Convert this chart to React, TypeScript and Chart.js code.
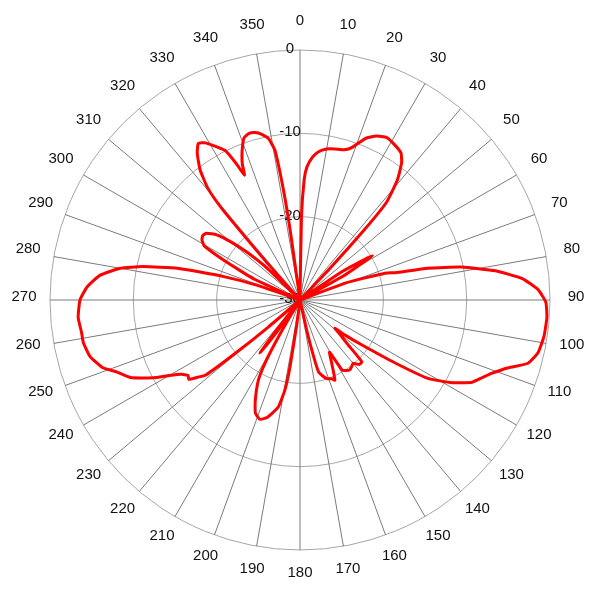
import React, { useEffect, useRef } from "react";
import { Chart, registerables } from "chart.js";

Chart.register(...registerables);

// Azimuth (degrees, clockwise from top) and relative gain (dB)
const azimuthDeg: number[] = [
  0, 1, 2, 3, 5, 7, 10, 13, 16.5, 19, 22, 25, 28, 31.5, 34.5, 36.5, 39, 41.5, 42.5, 43.5, 44.5,
  54, 56, 58.5, 61, 63,
  66, 69.5, 72.5, 74, 76, 78.5, 81.5, 84.5, 87.5, 90.5, 94, 98.5, 102.5, 105.5, 108, 111, 113,
  115.5, 118.5, 121.5, 123.5, 126, 128, 129,
  131, 133, 135, 137.5, 140, 142, 144.5, 147, 149, 150.5, 153, 155, 156.5, 158, 161, 163, 165.5,
  166.5, 167.5, 169,
  186.5, 187.5, 188.5, 189.5, 191.5, 195.5, 198.5, 201.5, 204, 207.5, 209, 210, 211, 212,
  214.5, 216, 217, 218, 219.5,
  228.5, 229.5, 230.5, 231.5, 233, 234.5, 236, 238, 240, 241.5, 243, 245.5, 248.5, 251, 255, 259,
  261.5, 265.5, 270, 273.5, 277, 280, 282, 284.5, 287, 289, 290.5,
  292.5, 294.5, 296.5, 298, 299.5, 301.5, 303.5, 305.5, 308, 310, 312, 314, 315.5,
  317.5, 318.5, 319, 319.5, 320.5, 322.5, 325, 327, 329, 331.5, 333.5, 335, 336, 337, 338, 339.5,
  341, 343, 345, 347, 349, 350.5, 351.5, 352, 353,
];

const gainDb: number[] = [
  -30, -20, -15.5, -14, -12.8, -12.1, -11.6, -11.4, -11.2, -10.6, -9.1, -8.3, -7.9, -8.2, -8.6, -9.5, -11.4, -14.3, -18.5, -25, -30,
  -30, -24, -19.8, -24, -30,
  -30, -24.2, -19.3, -18.1, -14.2, -10.2, -6.3, -3.2, -1.4, -0.5, -0.3, -0.4, -0.75, -1.6, -3.7, -5.4, -6.2,
  -7.1, -9.2, -12, -16.3, -20.8, -23.2, -24.6,
  -23.5, -22.1, -19.5, -19.5, -20.1, -19.9, -19.7, -19.9, -20.2, -22.8, -21.7, -20.5, -19.5, -19.8, -20.0, -20.4, -21.1,
  -23.2, -26.3, -30,
  -30, -27, -22, -19.1, -16.9, -15.4, -14.9, -15.4, -16.8, -19.2, -21.4, -24, -27.2, -30,
  -30, -25, -22, -25, -30,
  -30, -25, -20, -15.5, -14.6, -13.6, -13.8, -13.2, -11.9, -10.5, -9.4, -7.6, -6.4, -5.0, -3.9, -3.5,
  -3.5, -3.3, -3.6, -4.4, -5.8, -8.1, -10.7, -14.8, -20.3, -24.6, -30,
  -30, -24, -21.5, -19, -16.8, -16.2, -16.0, -16.2, -17.3, -19.1, -21.4, -24.5, -30,
  -30, -24, -20, -15.5, -12.6, -10.3, -8.5, -7.6, -8.0, -9.1, -10.0, -12.0, -13.6, -12.3, -11.4, -10.3,
  -9.4, -9.1, -9.2, -9.6, -10.3, -11.8, -17, -22, -30,
];

const angleLabels: number[] = [
  0, 10, 20, 30, 40, 50, 60, 70, 80, 90, 100, 110, 120, 130, 140, 150, 160, 170,
  180, 190, 200, 210, 220, 230, 240, 250, 260, 270, 280, 290, 300, 310, 320, 330, 340, 350,
];

const ringTicks: number[] = [0, -10, -20, -30];

const STEPS_PER_DEG = 2;
const N = 360 * STEPS_PER_DEG;

const labelPlugin = {
  id: "polarLabels",
  beforeDatasetsDraw(chart: any) {
    const s = chart.scales.r;
    const ctx = chart.ctx;
    ctx.save();
    ctx.font = '15px "Liberation Sans", Arial, sans-serif';
    ctx.fillStyle = "#111111";
    ctx.textAlign = "center";
    ctx.textBaseline = "middle";
    ringTicks.forEach((v) => {
      const d = s.getDistanceFromCenterForValue(v);
      ctx.fillText(String(v), s.xCenter - 10, s.yCenter - d - 1);
    });
    angleLabels.forEach((a) => {
      const p = s.getPointPosition(a * STEPS_PER_DEG, s.drawingArea + 26);
      ctx.fillText(String(a), p.x, p.y - 3);
    });
    ctx.restore();
  },
};

export default function App() {
  const ref = useRef<HTMLCanvasElement | null>(null);
  useEffect(() => {
    if (!ref.current) return;
    const labels: string[] = [];
    const data: (number | null)[] = [];
    for (let i = 0; i < N; i++) {
      labels.push(String(i / STEPS_PER_DEG));
      data.push(null);
    }
    azimuthDeg.forEach((a, i) => {
      data[Math.round(a * STEPS_PER_DEG) % N] = gainDb[i];
    });
    const chart = new Chart(ref.current, {
      type: "radar",
      data: {
        labels,
        datasets: [
          {
            data,
            borderColor: "#ff0000",
            borderWidth: 3,
            pointRadius: 0,
            pointHoverRadius: 0,
            fill: false,
            spanGaps: true,
            tension: 0.15,
            borderJoinStyle: "round",
          } as any,
        ],
      },
      options: {
        responsive: false,
        animation: false,
        layout: { padding: 50 },
        plugins: { legend: { display: false }, tooltip: { enabled: false } },
        scales: {
          r: {
            min: -30,
            max: 0,
            ticks: { display: false, stepSize: 10 },
            pointLabels: { display: false },
            grid: { circular: true, color: "#a6a6a6", lineWidth: 1 },
            angleLines: {
              color: "#7a7a7a",
              lineWidth: (c: any) => (c.index % (10 * STEPS_PER_DEG) === 0 ? 1 : 0),
            },
          } as any,
        },
      },
      plugins: [labelPlugin],
    });
    return () => chart.destroy();
  }, []);
  return (
    <div style={{ position: "absolute", left: 0, top: 0, width: 600, height: 600, background: "#fff" }}>
      <canvas ref={ref} width={600} height={600} />
    </div>
  );
}
